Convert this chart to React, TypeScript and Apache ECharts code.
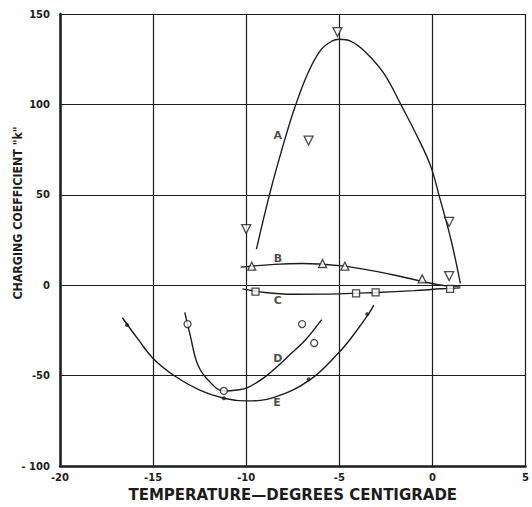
import React, { useEffect, useRef } from "react";
import * as echarts from "echarts";

const xTicks = ["-20", "-15", "-10", "-5", "0", "5"];
const yTicks = ["- 100", "-50", "0", "50", "100", "150"];

// measured points
const pointsA = [[-5.1, 140], [-6.65, 80], [-10.0, 31], [0.9, 35], [0.9, 5]];
const pointsB = [[-9.7, 10.5], [-5.9, 12], [-4.7, 10.5], [-0.55, 3.5]];
const pointsC = [[-9.5, -3.5], [-4.1, -4.5], [-3.05, -4], [0.95, -2]];
const pointsD = [[-13.15, -21.5], [-11.2, -58.5], [-7.0, -21.5], [-6.35, -32]];
const pointsE = [[-16.4, -22], [-11.2, -62.5], [-6.65, -52], [-3.5, -16]];

// fitted curves as drawn
const curveA = [[-9.45, 20], [-8.7, 52], [-8.0, 78], [-7.4, 98], [-6.7, 117], [-6.0, 130], [-5.4, 135], [-5.0, 136], [-4.4, 135], [-3.6, 129], [-2.6, 117], [-1.7, 100], [-0.8, 82], [-0.1, 66], [0.4, 48], [1.0, 25], [1.5, 1]];
const curveB = [[-10.3, 10], [-8.5, 11.5], [-7.0, 12], [-5.0, 10.8], [-3.5, 8.5], [-2.0, 5.5], [-0.5, 2], [0.5, 0], [1.5, -0.5]];
const curveC = [[-10.2, -2], [-9.0, -4], [-7.5, -5], [-5.0, -4.8], [-3.0, -4], [-1.0, -3], [0.5, -2], [1.5, -1.5]];
const curveD = [[-13.3, -15], [-13.0, -28], [-12.6, -44], [-12.0, -53], [-11.2, -58.5], [-10.5, -58], [-9.9, -56.5], [-8.9, -50], [-7.5, -37], [-6.8, -30], [-5.95, -19]];
const curveE = [[-16.65, -18], [-15.8, -30], [-15.0, -40.5], [-13.8, -50.5], [-12.5, -58], [-11.2, -62.5], [-10.0, -64], [-8.5, -62], [-6.6, -52.5], [-5.0, -37], [-4.2, -27], [-3.4, -15.5], [-3.15, -11]];

const labelNames = ["A", "B", "C", "D", "E"];
const labelPos = [[-8.3, 83], [-8.3, 15], [-8.3, -8.5], [-8.3, -40.5], [-8.35, -65]];

const INK = "#1c1c1c";
const FONT = "DejaVu Sans";

export default function App() {
  const ref = useRef<HTMLDivElement>(null);
  useEffect(() => {
    if (!ref.current) return;
    const chart = echarts.init(ref.current, null, { renderer: "svg", width: 532, height: 507 });
    const curve = (name: string, data: number[][]) => ({
      name,
      type: "line",
      data,
      smooth: 0.4,
      showSymbol: false,
      symbol: "none",
      lineStyle: { color: INK, width: 1.4 },
      z: 3,
    });
    const pts = (name: string, data: number[][], symbol: string, size: number, filled = false, rotate = 0) => ({
      name,
      type: "scatter",
      data,
      symbol,
      symbolSize: size,
      symbolRotate: rotate,
      itemStyle: filled
        ? { color: INK, borderColor: INK, borderWidth: 0 }
        : { color: "#ffffff", borderColor: INK, borderWidth: 1.3 },
      z: 4,
    });
    chart.setOption({
      animation: false,
      backgroundColor: "#ffffff",
      grid: { left: 60, top: 14, width: 470, height: 457, containLabel: false },
      xAxis: {
        type: "value",
        min: -20,
        max: 5,
        interval: 5,
        name: "TEMPERATURE—DEGREES CENTIGRADE",
        nameLocation: "middle",
        nameGap: 21,
        nameTextStyle: { color: INK, fontFamily: FONT, fontWeight: "bold", fontSize: 15 },
        axisLine: { show: true, onZero: false, lineStyle: { color: INK, width: 2.5 } },
        axisTick: { show: false },
        axisLabel: {
          color: INK,
          fontFamily: FONT,
          fontWeight: "bold",
          fontSize: 10,
          margin: 6,
          formatter: (v: number) => xTicks[Math.round((v + 20) / 5)] ?? "",
        },
        splitLine: { show: true, lineStyle: { color: INK, width: 1.2 } },
      },
      yAxis: {
        type: "value",
        min: -100,
        max: 150,
        interval: 50,
        axisLine: { show: true, onZero: false, lineStyle: { color: INK, width: 2.5 } },
        axisTick: { show: false },
        axisLabel: {
          color: INK,
          fontFamily: FONT,
          fontWeight: "bold",
          fontSize: 10,
          margin: 10,
          formatter: (v: number) => yTicks[Math.round((v + 100) / 50)] ?? "",
        },
        splitLine: { show: true, lineStyle: { color: INK, width: 1.2 } },
      },
      graphic: [
        {
          type: "text",
          x: 18,
          y: 213,
          rotation: Math.PI / 2,
          scaleX: 0.85,
          style: {
            text: 'CHARGING COEFFICIENT "k"',
            fill: INK,
            font: `bold 13px "${FONT}"`,
            align: "center",
            verticalAlign: "middle",
          },
        },
      ],
      series: [
        curve("curveA", curveA),
        curve("curveB", curveB),
        curve("curveC", curveC),
        curve("curveD", curveD),
        curve("curveE", curveE),
        pts("A", pointsA, "triangle", 9, false, 180),
        pts("B", pointsB, "triangle", 8),
        pts("C", pointsC, "rect", 7),
        pts("D", pointsD, "circle", 7),
        pts("E", pointsE, "circle", 4, true),
        {
          name: "labels",
          type: "scatter",
          data: labelPos.map((p, i) => ({ value: p, name: labelNames[i] })),
          symbolSize: 1,
          itemStyle: { color: "rgba(0,0,0,0)" },
          label: {
            show: true,
            position: "inside",
            formatter: (p: any) => p.name,
            color: INK,
            fontFamily: FONT,
            fontWeight: "bold",
            fontSize: 11,
          },
          z: 5,
        },
      ],
    });
    return () => chart.dispose();
  }, []);
  return (
    <div
      ref={ref}
      style={{ position: "fixed", left: 0, top: 0, width: 532, height: 507 }}
    />
  );
}
